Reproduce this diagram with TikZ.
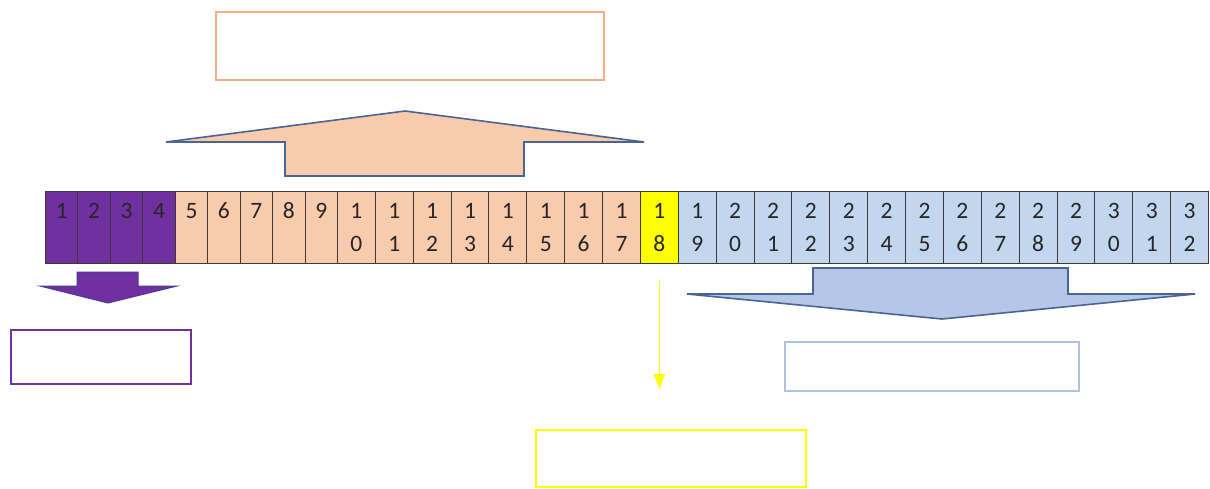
\documentclass[tikz,border=0pt]{standalone}
\usepackage{fontspec}
\setmainfont{Carlito}
\usetikzlibrary{arrows.meta}
\definecolor{lilac}{HTML}{7030A0}
\definecolor{lilacedge}{HTML}{4B3A9E}
\definecolor{peach}{HTML}{F8CBAD}
\definecolor{peachline}{HTML}{F4B183}
\definecolor{skyfill}{HTML}{C2D6EE}
\definecolor{skyarrow}{HTML}{B4C7E7}
\definecolor{skyline}{HTML}{AFC3E0}
\definecolor{edgeblue}{HTML}{4A6496}
\definecolor{cellline}{HTML}{3A3A3A}
\definecolor{bright}{HTML}{FFFF00}
\tikzset{
  cell/.style={draw=cellline,line width=1pt,minimum height=72pt,inner sep=0pt,align=center,
    text=black!85,font=\fontsize{23.5}{33}\selectfont,anchor=north west},
  box/.style={draw,line width=1.5pt,inner sep=0pt,anchor=north west,fill=white},
  blockarrow/.style={draw=edgeblue,line width=1.6pt,line join=miter}
}
\begin{document}
\begin{tikzpicture}[x=1pt,y=-1pt]
\useasboundingbox (0,0) rectangle (1210,488);
\foreach \i in {1,...,32}{
  \ifnum\i<10
    \pgfmathsetmacro\xl{45+(\i-1)*32.44}\def\w{32.44pt}\def\top{\i}\def\bot{\phantom{0}}
  \else
    \pgfmathsetmacro\xl{337+(\i-10)*37.87}\def\w{37.87pt}
    \pgfmathtruncatemacro\top{\i/10}\pgfmathtruncatemacro\bot{\i-10*\top}
  \fi
  \ifnum\i<5 \def\fc{lilac}\else\ifnum\i<18 \def\fc{peach}\else\ifnum\i=18 \def\fc{bright}\else\def\fc{skyfill}\fi\fi\fi
  \node[cell,fill=\fc,minimum width=\w] (c\i) at (\xl,191) {\top\\\bot};
}
\node[box,draw=peachline,minimum width=388pt,minimum height=68pt] (peachbox) at (215,11) {};
\node[box,draw=lilac,minimum width=180pt,minimum height=54pt] (lilacbox) at (10,329) {};
\node[box,draw=bright,minimum width=270pt,minimum height=57pt] (brightbox) at (535,429) {};
\node[box,draw=skyline,minimum width=294pt,minimum height=49pt] (skybox) at (784,341) {};
\draw[blockarrow,fill=peach] (166,142) -- (405,111) -- (644,142) -- (524,142) -- (524,176) -- (285,176) -- (285,142) -- cycle;
\draw[blockarrow,fill=lilac,draw=lilacedge,line width=1pt] (77,272) -- (138,272) -- (138,286) -- (177,286) -- (108,303) -- (40,286) -- (77,286) -- cycle;
\draw[blockarrow,fill=skyarrow] (813,268) -- (1068,268) -- (1068,294) -- (1195,294) -- (942,319) -- (687,294) -- (813,294) -- cycle;
\draw[bright,line width=1.6pt,-{Triangle[width=11pt,length=15pt]},shorten <=17pt,shorten >=40pt] (c18.south) -- (c18.south |- brightbox.north);
\end{tikzpicture}
\end{document}
